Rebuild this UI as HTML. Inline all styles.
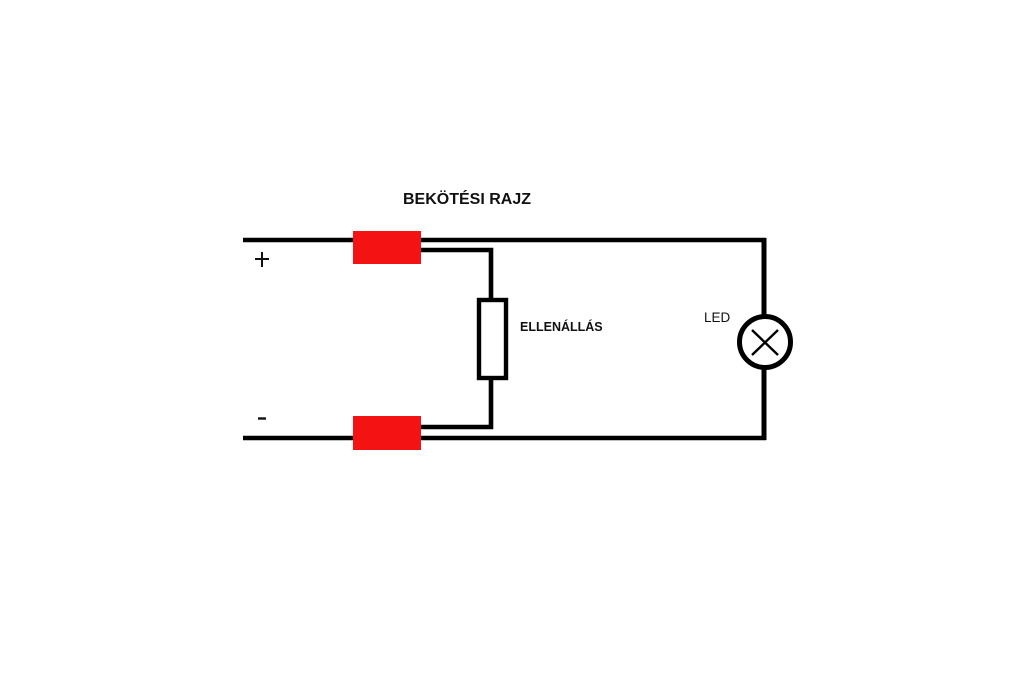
<!DOCTYPE html>
<html>
<head>
<meta charset="utf-8">
<style>
  html, body { margin: 0; padding: 0; background: #ffffff; }
  body { width: 1024px; height: 698px; overflow: hidden; }
  svg { display: block; }
</style>
</head>
<body>
<svg width="1024" height="698" viewBox="0 0 1024 698" xmlns="http://www.w3.org/2000/svg">
  <rect x="0" y="0" width="1024" height="698" fill="#ffffff"/>

  <!-- Title -->
  <text x="403" y="204" font-family="Liberation Sans, sans-serif" font-weight="bold" font-size="16" fill="#111">BEKÖTÉSI RAJZ</text>

  <!-- top main wire -->
  <line x1="243" y1="240" x2="766" y2="240" stroke="#000" stroke-width="4.4"/>
  <!-- right vertical -->
  <line x1="764" y1="238" x2="764" y2="440" stroke="#000" stroke-width="5"/>
  <!-- bottom main wire -->
  <line x1="243" y1="438" x2="766" y2="438" stroke="#000" stroke-width="4.4"/>

  <!-- resistor branch -->
  <polyline points="420,250 491,250 491,300" fill="none" stroke="#000" stroke-width="4.6"/>
  <polyline points="491,378 491,427 420,427" fill="none" stroke="#000" stroke-width="4.6"/>
  <rect x="479" y="300" width="27" height="78" fill="#fff" stroke="#000" stroke-width="4.4"/>

  <!-- red connectors -->
  <rect x="353" y="231" width="68" height="33" fill="#f41212"/>
  <rect x="353" y="416" width="68" height="34" fill="#f41212"/>

  <!-- plus / minus -->
  <line x1="255" y1="259" x2="269" y2="259" stroke="#111" stroke-width="2"/>
  <line x1="262" y1="252" x2="262" y2="267" stroke="#111" stroke-width="2"/>
  <line x1="258" y1="418.5" x2="266" y2="418.5" stroke="#111" stroke-width="2.4"/>

  <!-- LED -->
  <circle cx="765" cy="342" r="25.5" fill="#fff" stroke="#000" stroke-width="5"/>
  <line x1="752" y1="330" x2="778" y2="355" stroke="#000" stroke-width="2.4"/>
  <line x1="778" y1="330" x2="752" y2="355" stroke="#000" stroke-width="2.4"/>
  <text x="704" y="322" font-family="Liberation Sans, sans-serif" font-size="13.5" fill="#111">LED</text>

  <!-- resistor label -->
  <text x="520" y="331" font-family="Liberation Sans, sans-serif" font-weight="bold" font-size="12.5" fill="#111">ELLENÁLLÁS</text>
</svg>
</body>
</html>
